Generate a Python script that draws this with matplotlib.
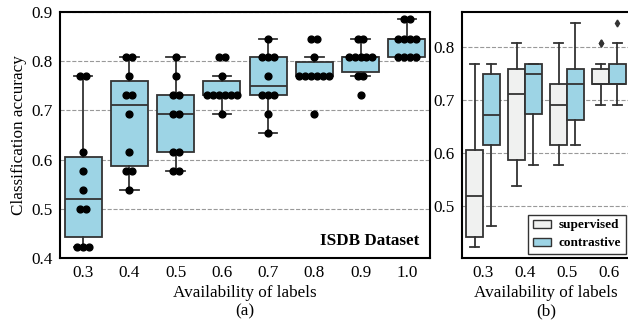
import numpy as np
import matplotlib
matplotlib.use('Agg')
import matplotlib.pyplot as plt
from matplotlib.patches import Patch

plt.rcParams['font.family'] = ['Liberation Serif', 'DejaVu Serif']

# label availability groups
labels = ['0.3', '0.4', '0.5', '0.6', '0.7', '0.8', '0.9', '1.0']

# supervised accuracies (10 runs per group)
sup = [
    [0.423, 0.423, 0.423, 0.500, 0.500, 0.538, 0.577, 0.615, 0.769, 0.769],
    [0.538, 0.577, 0.577, 0.615, 0.692, 0.731, 0.731, 0.769, 0.808, 0.808],
    [0.577, 0.577, 0.615, 0.615, 0.692, 0.692, 0.731, 0.731, 0.769, 0.808],
    [0.692, 0.731, 0.731, 0.731, 0.731, 0.731, 0.731, 0.769, 0.808, 0.808],
    [0.654, 0.692, 0.731, 0.731, 0.731, 0.769, 0.808, 0.808, 0.808, 0.846],
    [0.692, 0.769, 0.769, 0.769, 0.769, 0.769, 0.769, 0.808, 0.846, 0.846],
    [0.731, 0.769, 0.769, 0.808, 0.808, 0.808, 0.808, 0.808, 0.846, 0.846],
    [0.808, 0.808, 0.808, 0.808, 0.846, 0.846, 0.846, 0.846, 0.885, 0.885],
]

# contrastive accuracies for first four groups
con = [
    [0.462, 0.538, 0.615, 0.615, 0.654, 0.692, 0.692, 0.769, 0.769, 0.769],
    [0.577, 0.615, 0.654, 0.731, 0.731, 0.769, 0.769, 0.769, 0.769, 0.769],
    [0.615, 0.654, 0.654, 0.692, 0.731, 0.731, 0.731, 0.769, 0.808, 0.846],
    [0.692, 0.731, 0.731, 0.731, 0.731, 0.731, 0.769, 0.769, 0.808, 0.846],
]

blue = '#9dd4e5'
grey = '#f0f1f0'
lc = '#333333'
fs = 12.3

fig = plt.figure(figsize=(6.28, 3.24), dpi=100)
ax1 = fig.add_axes([0.0955, 0.2037, 0.589, 0.7593])
ax2 = fig.add_axes([0.7357, 0.2037, 0.2675, 0.7593])


def boxes(ax, data, pos, width, color, fliers):
    ax.boxplot(data, positions=pos, widths=width, patch_artist=True,
               showfliers=fliers, whis=1.5,
               boxprops=dict(facecolor=color, edgecolor=lc, linewidth=1.3),
               medianprops=dict(color=lc, linewidth=1.3),
               whiskerprops=dict(color=lc, linewidth=1.3),
               capprops=dict(color=lc, linewidth=1.3),
               flierprops=dict(marker='d', markersize=3.5, markerfacecolor=lc,
                               markeredgecolor=lc))


# (a) boxes + swarm
x = np.arange(len(labels))
boxes(ax1, sup, x, 0.8, blue, False)
step = 0.128
for i, vals in enumerate(sup):
    u, c = np.unique(vals, return_counts=True)
    for v, n in zip(u, c):
        xs = i + (np.arange(n) - (n - 1) / 2) * step
        ax1.plot(xs, [v] * n, 'o', color='black', markersize=4.9, zorder=5)

ax1.set_xlim(-0.5, len(labels) - 0.5)
ax1.set_ylim(0.4, 0.9)
ax1.set_xticks(x)
ax1.set_xticklabels(labels)
ax1.set_yticks([0.4, 0.5, 0.6, 0.7, 0.8, 0.9])
ax1.set_ylabel('Classification accuracy', fontsize=fs, labelpad=3)
ax1.set_xlabel('Availability of labels\n(a)', fontsize=fs, linespacing=1.2, labelpad=3)
ax1.text(0.97, 0.07, 'ISDB Dataset', transform=ax1.transAxes, ha='right',
         va='center', fontsize=fs, fontweight='bold')

# (b) supervised vs contrastive
x2 = np.arange(len(con))
boxes(ax2, sup[:4], x2 - 0.2, 0.4, grey, True)
boxes(ax2, con, x2 + 0.2, 0.4, blue, True)
ax2.set_xlim(-0.5, len(con) - 0.5)
ax2.set_ylim(0.402, 0.867)
ax2.set_xticks(x2)
ax2.set_xticklabels(labels[:4])
ax2.set_yticks([0.5, 0.6, 0.7, 0.8])
ax2.set_xlabel('Availability of labels\n(b)', fontsize=fs, linespacing=1.2, labelpad=3)
leg = ax2.legend(handles=[Patch(facecolor=grey, edgecolor=lc, label='supervised'),
                          Patch(facecolor=blue, edgecolor=lc, label='contrastive')],
                 loc='lower right', prop={'weight': 'bold', 'size': 9.5},
                 fancybox=False, edgecolor='black', handlelength=1.4,
                 handleheight=0.6, borderaxespad=0.3, labelspacing=0.45,
                 handletextpad=0.6, borderpad=0.35)
leg.get_frame().set_linewidth(1.0)

for ax in (ax1, ax2):
    ax.yaxis.grid(True, linestyle='--', color='#999999', linewidth=0.8)
    ax.set_axisbelow(True)
    ax.tick_params(length=0, labelsize=fs, pad=5)
    for s in ax.spines.values():
        s.set_linewidth(1.5)
        s.set_color('black')

fig.savefig('out.png', dpi=100)
